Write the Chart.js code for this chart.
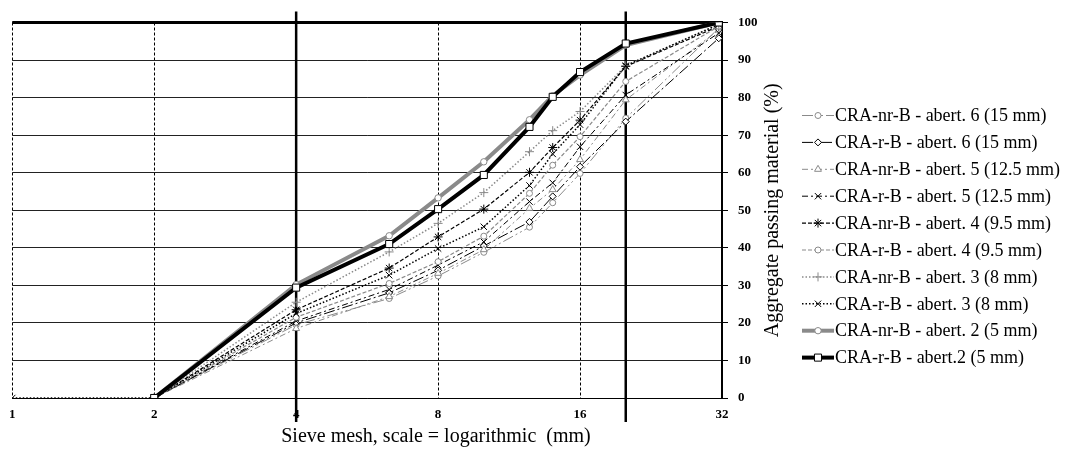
<!DOCTYPE html>
<html><head><meta charset="utf-8">
<script src="https://cdn.jsdelivr.net/npm/chart.js@4.4.1/dist/chart.umd.min.js"></script>
<style>html,body{margin:0;padding:0;background:#fff;}canvas{display:block;}</style>
</head><body>
<canvas id="c" width="1068" height="453"></canvas>
<script>
// ---- data ----
const sieveSizes = [1, 2, 4, 6.3, 8, 10, 12.5, 14, 16, 20, 31.5];
const xTickValues = [1, 2, 4, 8, 16, 32];
const markerSieves = [4, 20];
const seriesNames = [
  'CRA-nr-B - abert. 6 (15 mm)',
  'CRA-r-B - abert. 6 (15 mm)',
  'CRA-nr-B - abert. 5 (12.5 mm)',
  'CRA-r-B - abert. 5 (12.5 mm)',
  'CRA-nr-B - abert. 4 (9.5 mm)',
  'CRA-r-B - abert. 4 (9.5 mm)',
  'CRA-nr-B - abert. 3 (8 mm)',
  'CRA-r-B - abert. 3 (8 mm)',
  'CRA-nr-B - abert. 2 (5 mm)',
  'CRA-r-B - abert.2 (5 mm)'
];
const nrB6 = [null, 0, 19.5, 26.5, 32.5, 38.8, 45.5, 52.0, 59.8, 74.5, 98.5];
const rB6  = [null, 0, 20.0, 28.0, 34.0, 40.5, 46.9, 53.7, 61.6, 73.6, 95.8];
const nrB5 = [null, 0, 18.5, 27.0, 33.2, 39.5, 50.5, 55.5, 63.5, 79.4, 98.0];
const rB5  = [null, 0, 20.5, 28.9, 35.4, 41.6, 52.3, 57.3, 66.9, 80.7, 97.2];
const nrB4 = [null, 0, 23.5, 34.6, 42.9, 50.3, 60.1, 66.7, 74.0, 88.3, 99.0];
const rB4  = [null, 0, 21.5, 30.5, 36.3, 43.1, 54.5, 62.0, 69.6, 84.3, 99.0];
const nrB3 = [null, 0, 25.5, 38.9, 46.5, 54.7, 65.6, 71.2, 76.3, 88.5, 99.5];
const rB3  = [0,    0, 22.5, 32.7, 39.8, 45.6, 56.6, 65.0, 72.8, 88.5, 99.5];
const nrB2 = [null, 0, 30.2, 43.2, 53.3, 62.9, 74.1, 80.5, 86.0, 94.0, 100];
const rB2  = [null, 0, 29.4, 41.0, 50.3, 59.4, 72.2, 80.2, 86.8, 94.4, 100];
const seriesValues = [nrB6, rB6, nrB5, rB5, nrB4, rB4, nrB3, rB3, nrB2, rB2];
const xTitle = 'Sieve mesh, scale = logarithmic  (mm)';
const yTitle = 'Aggregate passing material (%)';

// ---- styles ----
const GRAY = '#8a8a8a';
const SERIF = '"Liberation Serif", "Times New Roman", serif';
const styles = [
  {c: GRAY,   w: 1,   dash: [11,3,2,3,2,3], ps: 'circle',   r: 3},
  {c: '#000', w: 1,   dash: [11,3,2,3],     ps: 'rectRot',  r: 3.5},
  {c: GRAY,   w: 1,   dash: [6,3,2,3],      ps: 'triangle', r: 4},
  {c: '#000', w: 1,   dash: [6,3,2,3],      ps: 'crossRot', r: 4.5},
  {c: '#000', w: 1.2, dash: [4,2],          ps: 'star',     r: 4.5},
  {c: GRAY,   w: 1.2, dash: [4,2],          ps: 'circle',   r: 3},
  {c: GRAY,   w: 1.5, dash: [1.5,2],        ps: 'cross',    r: 4.5},
  {c: '#000', w: 1.5, dash: [1.5,2],        ps: 'crossRot', r: 4.5},
  {c: GRAY,   w: 4,   dash: [],             ps: 'circle',   r: 3.2},
  {c: '#000', w: 4,   dash: [],             ps: 'rect',     r: 5}
];

const datasets = seriesValues.map((vals, i) => {
  const s = styles[i];
  const pts = [];
  sieveSizes.forEach((sz, j) => { if (vals[j] !== null) pts.push({x: sz, y: vals[j]}); });
  return {
    label: seriesNames[i], data: pts,
    borderColor: s.c, borderWidth: s.w, borderDash: s.dash,
    pointStyle: s.ps, pointRadius: s.r, pointBorderColor: s.c,
    pointBackgroundColor: '#fff', pointBorderWidth: 1,
    tension: 0, fill: false, order: seriesValues.length - i
  };
});

const decor = {
  id: 'decor',
  beforeDatasetsDraw(chart) {
    const {ctx, chartArea: a, scales: {x, y}} = chart;
    ctx.save();
    ctx.strokeStyle = '#000';
    ctx.setLineDash([]);
    ctx.lineWidth = 3;
    const yTop = y.getPixelForValue(100);
    ctx.beginPath(); ctx.moveTo(a.left, yTop); ctx.lineTo(a.right + 1, yTop); ctx.stroke();
    ctx.lineWidth = 2;
    const xr = x.getPixelForValue(32);
    ctx.beginPath(); ctx.moveTo(xr, a.top); ctx.lineTo(xr, a.bottom); ctx.stroke();
    ctx.lineWidth = 2.5;
    markerSieves.forEach(v => {
      const px = x.getPixelForValue(v);
      ctx.beginPath(); ctx.moveTo(px, a.top - 11); ctx.lineTo(px, a.bottom + 24); ctx.stroke();
    });
    ctx.restore();
  },
  afterDraw(chart) {
    const {ctx, chartArea: a} = chart;
    ctx.save();
    ctx.fillStyle = '#000';
    ctx.font = '20px ' + SERIF;
    ctx.textAlign = 'center'; ctx.textBaseline = 'middle';
    ctx.fillText(xTitle, a.left + (a.right - a.left) * 0.597, a.bottom + 39);
    ctx.save();
    ctx.translate(a.right + 51, (a.top + a.bottom) / 2);
    ctx.rotate(-Math.PI / 2);
    ctx.fillText(yTitle, 0, 0);
    ctx.restore();
    // legend
    ctx.font = '18px ' + SERIF;
    ctx.textAlign = 'left';
    chart.data.datasets.forEach((ds, i) => {
      const yy = a.top + 93 + i * 26.9;
      const x0 = a.right + 80, x1 = a.right + 112;
      ctx.save();
      ctx.strokeStyle = ds.borderColor; ctx.lineWidth = ds.borderWidth;
      ctx.setLineDash(ds.borderDash);
      ctx.beginPath(); ctx.moveTo(x0, yy); ctx.lineTo(x1, yy); ctx.stroke();
      ctx.setLineDash([]);
      ctx.fillStyle = '#fff'; ctx.strokeStyle = ds.borderColor; ctx.lineWidth = 1;
      Chart.helpers.drawPoint(ctx, {pointStyle: ds.pointStyle, radius: ds.pointRadius, borderWidth: 1, rotation: 0}, a.right + 96, yy);
      ctx.restore();
      ctx.fillStyle = '#000';
      ctx.fillText(ds.label, a.right + 113, yy + 1);
    });
    ctx.restore();
  }
};

new Chart(document.getElementById('c'), {
  type: 'line',
  data: {datasets},
  plugins: [decor],
  options: {
    responsive: false, animation: false, devicePixelRatio: 1,
    layout: {padding: {left: 12, right: 306, top: 22.5, bottom: 10}},
    plugins: {legend: {display: false}, tooltip: {enabled: false}},
    scales: {
      x: {
        type: 'logarithmic', min: 1, max: 32,
        afterBuildTicks: s => { s.ticks = xTickValues.map(v => ({value: v})); },
        afterFit: s => { s.height = 45; },
        ticks: {autoSkip: false, maxRotation: 0, padding: 9, color: '#000',
          font: {family: SERIF, size: 13, weight: 'bold'}, callback: v => String(v)},
        grid: {color: '#000', lineWidth: 1, drawTicks: false},
        border: {display: true, color: '#000', dash: [3, 2]}
      },
      y: {
        position: 'right', min: 0, max: 100,
        afterFit: s => { s.width = 40; },
        ticks: {stepSize: 10, padding: 10, color: '#000',
          font: {family: SERIF, size: 13, weight: 'bold'}},
        grid: {color: '#222', lineWidth: 1, drawTicks: true, tickLength: 6, tickColor: '#000'},
        border: {display: false}
      }
    }
  }
});
</script>
</body></html>
